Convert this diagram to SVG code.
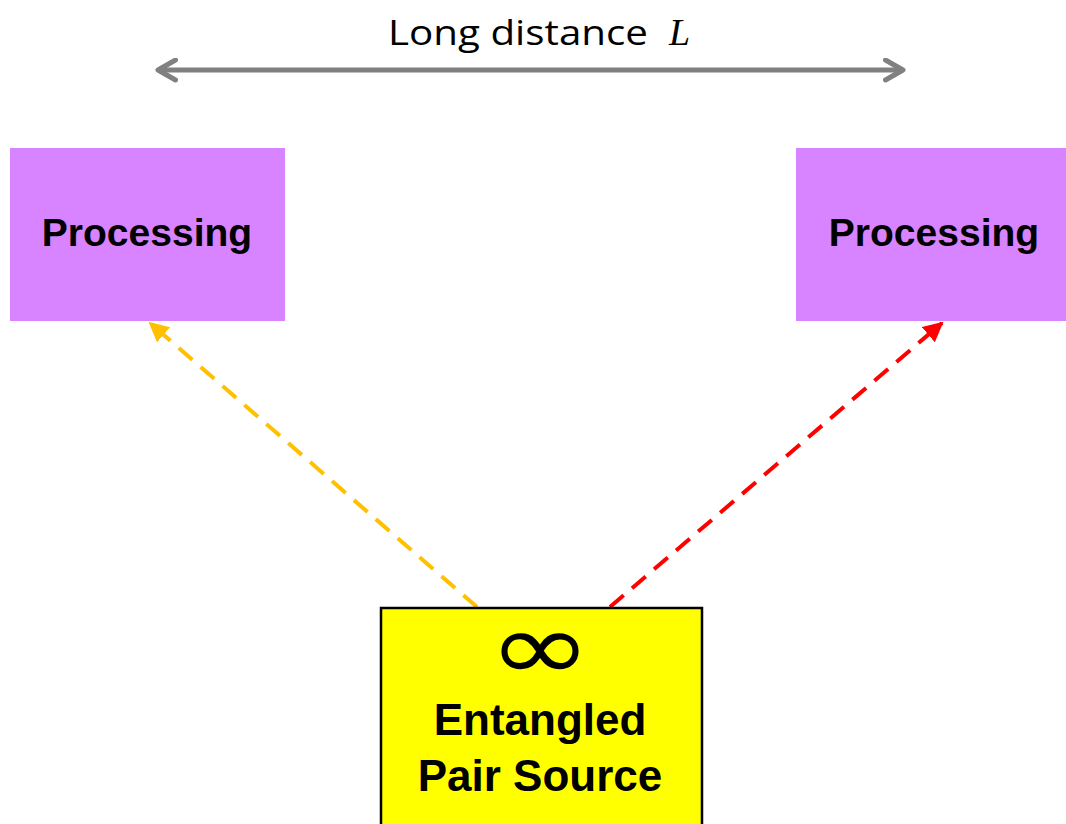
<svg xmlns="http://www.w3.org/2000/svg" width="1066" height="824" viewBox="0 0 1066 824">
<style>
.proc{fill:#D883FF}
.lbl{font-family:"Liberation Sans",Arial,sans-serif;font-weight:bold;fill:#000}
</style>
<defs>
<marker id="ga" viewBox="0 0 10 10" refX="8" refY="5" markerWidth="5" markerHeight="5" orient="auto-start-reverse" markerUnits="strokeWidth">
<path d="M1,1 L8,5 L1,9" fill="none" stroke="#808080" stroke-width="2" stroke-linecap="round" stroke-linejoin="round"/>
</marker>
<marker id="oa" viewBox="0 0 10 10" refX="9" refY="5" markerWidth="5" markerHeight="5" orient="auto" markerUnits="strokeWidth">
<path d="M0,0 L10,5 L0,10 Z" fill="#FFC000"/>
</marker>
<marker id="ra" viewBox="0 0 10 10" refX="9" refY="5" markerWidth="5" markerHeight="5" orient="auto" markerUnits="strokeWidth">
<path d="M0,0 L10,5 L0,10 Z" fill="#FF0000"/>
</marker>
</defs>
<rect width="1066" height="824" fill="#fff"/>
<g id="connectors">
<line x1="158" y1="70" x2="903" y2="70" stroke="#808080" stroke-width="5" marker-start="url(#ga)" marker-end="url(#ga)"/>
<line x1="477" y1="607" x2="150" y2="323" stroke="#FFC000" stroke-width="4" stroke-dasharray="18,11" marker-end="url(#oa)"/>
<line x1="610" y1="607" x2="942" y2="323" stroke="#FF0000" stroke-width="4" stroke-dasharray="18,11" marker-end="url(#ra)"/>
</g>
<g id="title">
<text x="388" y="45" font-family="'Open Sans','Liberation Sans',sans-serif" font-size="35" textLength="260" lengthAdjust="spacingAndGlyphs" fill="#000">Long distance</text>
<text x="669" y="45" font-family="'Liberation Serif',serif" font-style="italic" font-size="38" fill="#000">L</text>
</g>
<g id="proc-left">
<rect class="proc" x="10" y="148" width="275" height="173"/>
<text class="lbl" x="147" y="246" font-size="39" text-anchor="middle">Processing</text>
</g>
<g id="proc-right">
<rect class="proc" x="796" y="148" width="270" height="173"/>
<text class="lbl" x="934" y="246" font-size="39" text-anchor="middle">Processing</text>
</g>
<g id="source">
<rect x="381" y="608" width="321" height="220" fill="#FFFF00" stroke="#000" stroke-width="2.5"/>
<text x="0" y="680" transform="translate(540,0) scale(1.3,1)" font-family="'DejaVu Sans',sans-serif" font-size="96" text-anchor="middle" fill="#000">∞</text>
<text class="lbl" x="540" y="735" font-size="44" text-anchor="middle">Entangled</text>
<text class="lbl" x="540" y="791" font-size="44" text-anchor="middle">Pair Source</text>
</g>
</svg>
